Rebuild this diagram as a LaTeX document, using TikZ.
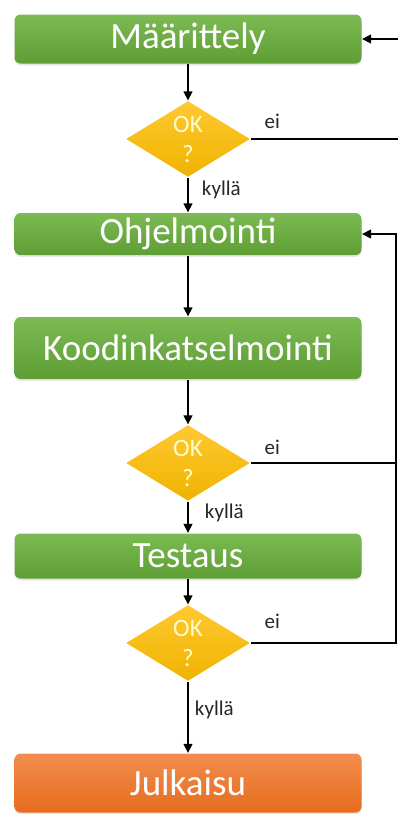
\documentclass[tikz,border=0pt]{standalone}
\usepackage{fontspec}
\setmainfont{Carlito}
\usetikzlibrary{arrows.meta, shapes.geometric, shadows}
\definecolor{gtop}{HTML}{7CBA53}
\definecolor{gbot}{HTML}{5E9E34}
\definecolor{otop}{HTML}{F28D4E}
\definecolor{obot}{HTML}{E66C1E}
\definecolor{ytop}{HTML}{FFC931}
\definecolor{ybot}{HTML}{EFB300}
\definecolor{ctext}{HTML}{262626}
\tikzset{
  every picture/.style={line width=1.3pt},
  box/.style={rounded corners=6pt, minimum width=347pt, inner sep=0pt, text=white,
    font=\fontsize{37}{40}\selectfont, top color=gtop, bottom color=gbot,
    drop shadow={opacity=0.18, shadow xshift=0pt, shadow yshift=-2pt}},
  endbox/.style={box, top color=otop, bottom color=obot},
  dec/.style={diamond, minimum width=124pt, minimum height=76pt, inner sep=0pt,
    top color=ytop, bottom color=ybot,
    label={[align=center, text=white!80!yellow, font=\fontsize{25}{30}\selectfont]center:OK\\?}},
  arrow/.style={-{Triangle[length=9pt, width=9pt]}, draw=black},
  lbl/.style={font=\fontsize{21}{24}\selectfont, text=ctext},
}

\begin{document}
\begin{tikzpicture}[x=1pt, y=-1pt]
  \useasboundingbox (0,0) rectangle (397,814);
  % steps
  \foreach \n/\y/\h/\t in {m1/39/49/Määrittely, o1/234/42/Ohjelmointi, k1/348/62/Koodinkatselmointi, t1/556/45/Testaus}
    \node[box, minimum height=\h pt] (\n) at (188,\y) {\t};
  \node[endbox, minimum height=59pt] (j1) at (188,783) {Julkaisu};
  % checks
  \foreach \n/\y in {d1/139, d2/463, d3/643} \node[dec] (\n) at (188,\y) {};
  \coordinate (r1) at (401,39);
  \coordinate (r2) at (396,234);
  \coordinate (r3) at (396,463);
  % flow
  \foreach \a/\b in {m1/d1, o1/k1, k1/d2, t1/d3} \draw[arrow] (\a) -- (\b);
  \draw[arrow] (d1) -- node[lbl, pos=0.35, right=10pt]{kyllä} (o1);
  \draw[arrow] (d2) -- node[lbl, pos=0.35, right=13pt]{kyllä} (t1);
  \draw[arrow] (d3) -- node[lbl, pos=0.4, right=3pt]{kyllä} (j1);
  % back loops
  \draw[arrow] (d1.east) node[lbl, anchor=south west, xshift=10pt, yshift=6pt]{ei} -| (r1) -- (m1.east);
  \draw[arrow] (d2.east) node[lbl, anchor=south west, xshift=10pt, yshift=4pt]{ei} -| (r2) -- (o1.east);
  \draw (d3.east) node[lbl, anchor=south west, xshift=10pt, yshift=10pt]{ei} -| (r3);
\end{tikzpicture}
\end{document}
